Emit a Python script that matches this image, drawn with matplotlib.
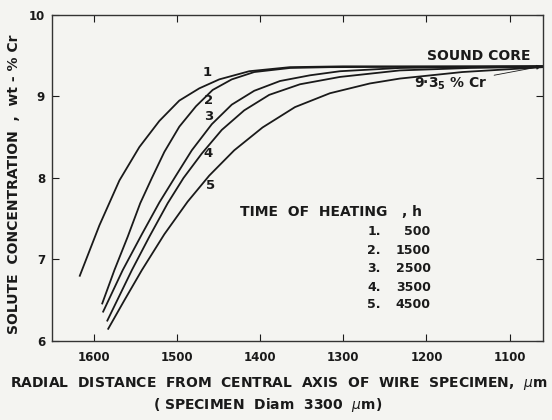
import matplotlib
matplotlib.use("Agg")
import matplotlib.pyplot as plt

plt.rcParams['font.family'] = ['DejaVu Sans']
plt.rcParams['mathtext.fontset'] = 'dejavusans'

# Curve data (radial distance um, wt-% Cr)
x1 = [1617, 1593, 1569, 1545, 1521, 1497, 1473, 1449, 1413, 1364, 1300, 1200, 1060]
y1 = [6.79, 7.42, 7.97, 8.38, 8.70, 8.95, 9.10, 9.21, 9.31, 9.36, 9.37, 9.37, 9.37]

x2 = [1590, 1575, 1559, 1544, 1530, 1515, 1497, 1477, 1457, 1434, 1407, 1364, 1316, 1060]
y2 = [6.45, 6.87, 7.28, 7.69, 8.00, 8.32, 8.63, 8.88, 9.08, 9.21, 9.30, 9.35, 9.36, 9.37]

x3 = [1589, 1565, 1542, 1521, 1501, 1482, 1458, 1434, 1407, 1376, 1340, 1304, 1232, 1172, 1060]
y3 = [6.35, 6.87, 7.31, 7.70, 8.03, 8.34, 8.66, 8.90, 9.07, 9.19, 9.26, 9.31, 9.35, 9.36, 9.37]

x4 = [1584, 1554, 1533, 1511, 1492, 1470, 1446, 1419, 1389, 1352, 1304, 1232, 1148, 1088, 1060]
y4 = [6.24, 6.87, 7.28, 7.69, 8.00, 8.30, 8.59, 8.83, 9.02, 9.15, 9.24, 9.32, 9.35, 9.36, 9.37]

x5 = [1583, 1563, 1542, 1515, 1487, 1461, 1431, 1397, 1358, 1316, 1268, 1232, 1157, 1076, 1060]
y5 = [6.14, 6.50, 6.87, 7.31, 7.71, 8.03, 8.34, 8.62, 8.87, 9.04, 9.16, 9.22, 9.30, 9.35, 9.36]

curves = [(x1, y1), (x2, y2), (x3, y3), (x4, y4), (x5, y5)]
curve_labels = ['1', '2', '3', '4', '5']
label_pos = [(1463, 9.29), (1462, 8.95), (1462, 8.76), (1463, 8.30), (1460, 7.91)]

xticks = [1600, 1500, 1400, 1300, 1200, 1100]
yticks = [6, 7, 8, 9, 10]

legend_nums = ['1.', '2.', '3.', '4.', '5.']
legend_hours = ['500', '1500', '2500', '3500', '4500']
legend_rows = [7.34, 7.11, 6.89, 6.66, 6.45]

INK = '#1a1a1a'

fig = plt.figure(figsize=(5.52, 4.2), dpi=100)
fig.patch.set_facecolor('#f4f4f1')
ax = fig.add_axes([0.0942, 0.1881, 0.8895, 0.7762])
ax.set_facecolor('#f4f4f1')

for (xs, ys) in curves:
    ax.plot(xs, ys, color=INK, lw=1.3, solid_capstyle='butt', solid_joinstyle='round')

for lab, (lx, ly) in zip(curve_labels, label_pos):
    ax.text(lx, ly, lab, fontsize=9.5, fontweight='bold',
            ha='center', va='center', color=INK)

ax.set_xlim(1650, 1060)
ax.set_ylim(6, 10)
ax.set_xticks(xticks)
ax.set_yticks(yticks)
ax.tick_params(direction='in', length=5, width=0.8, top=True, right=True,
               labelsize=8.5, colors=INK)
ax.tick_params(axis='x', pad=7)
ax.tick_params(axis='y', pad=5)
for lbl in ax.get_xticklabels() + ax.get_yticklabels():
    lbl.set_fontweight('bold')
for sp in ax.spines.values():
    sp.set_linewidth(1.0)
    sp.set_color('#333333')

# annotations
ax.text(1075, 9.50, 'SOUND CORE', fontsize=10, fontweight='bold', ha='right', va='center', color=INK)
ax.annotate('9·3$_\\mathbf{5}$ % Cr', xy=(1062, 9.37), xytext=(1127, 9.16),
            fontsize=10, fontweight='bold', ha='right', va='center', color=INK,
            arrowprops=dict(arrowstyle='-|>', lw=0.6, color=INK, mutation_scale=7,
                            shrinkA=3, shrinkB=0))

ax.text(1315, 7.58, 'TIME  OF  HEATING   , h', fontsize=10, fontweight='bold',
        ha='center', va='center', color=INK)
for n, h, ry in zip(legend_nums, legend_hours, legend_rows):
    ax.text(1255, ry, n, fontsize=9, fontweight='bold',
            ha='right', va='center', color=INK)
    ax.text(1195, ry, h, fontsize=9, fontweight='bold',
            ha='right', va='center', color=INK)

fig.text(0.505, 0.088, 'RADIAL  DISTANCE  FROM  CENTRAL  AXIS  OF  WIRE  SPECIMEN,  $\\mu$m',
         fontsize=10, fontweight='bold', ha='center', va='center', color=INK)
fig.text(0.484, 0.036, '( SPECIMEN  Diam  3300  $\\mu$m)',
         fontsize=10, fontweight='bold', ha='center', va='center', color=INK)
fig.text(0.026, 0.562, 'SOLUTE  CONCENTRATION  ,  wt - % Cr', rotation=90,
         fontsize=10, fontweight='bold', ha='center', va='center', color=INK)

fig.savefig('out.png', dpi=100, facecolor=fig.get_facecolor())
